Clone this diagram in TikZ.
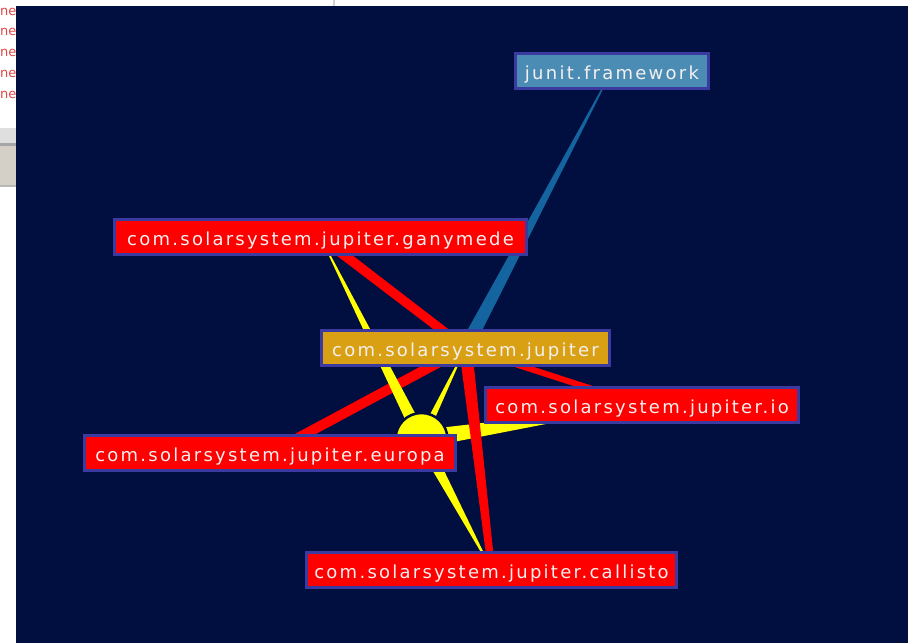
\documentclass[tikz,border=0pt]{standalone}
\usepackage{fontspec}
\newfontfamily\lblfont[LetterSpace=12.5]{DejaVu Sans}
\newfontfamily\chromefont{DejaVu Sans}
\usetikzlibrary{calc}
\pgfdeclarelayer{bg}
\pgfdeclarelayer{edges}
\pgfsetlayers{bg,edges,main}
\definecolor{navy}{HTML}{000E40}
\definecolor{bord}{HTML}{3A3AA0}
\definecolor{pkgred}{HTML}{FF0000}
\definecolor{pkgorange}{HTML}{DAA014}
\definecolor{pkgblue}{HTML}{4A8CB4}
\definecolor{edgeblue}{HTML}{1464A0}
\definecolor{edgered}{HTML}{FF0000}
\definecolor{edgeyellow}{HTML}{FFFF00}
\definecolor{lbltext}{HTML}{F4F0F0}
\definecolor{chromegray}{HTML}{D4D0C8}
\definecolor{chromered}{HTML}{E04848}
\newcommand{\taperedge}[5]{%
  \fill[#1] ($(#2)!#4!90:(#3)$) -- ($(#2)!#4!-90:(#3)$) --
            ($(#3)!#5!90:(#2)$) -- ($(#3)!#5!-90:(#2)$) -- cycle;}
\tikzset{
  pkg/.style={draw=bord, line width=3pt, text=lbltext,
    font=\lblfont\fontsize{18}{20}\selectfont, inner sep=0pt,
    text height=17pt, text depth=0pt, minimum height=35pt},
  redpkg/.style={pkg, fill=pkgred},
  orangepkg/.style={pkg, fill=pkgorange},
  bluepkg/.style={pkg, fill=pkgblue},
  hubdisc/.style={circle, fill=edgeyellow, draw=navy, line width=2.5pt,
    minimum size=52pt, inner sep=0pt},
  chrometext/.style={anchor=west, inner sep=0pt, text=chromered,
    font=\chromefont\fontsize{13}{14}\selectfont}
}
\begin{document}
\begin{tikzpicture}[x=1pt, y=-1pt]
\useasboundingbox (0,0) rectangle (908,643);
% window chrome and panel
\begin{pgfonlayer}{bg}
  \fill[white] (0,0) rectangle (908,643);
  \foreach \yy in {12,32,53,74,95} {
    \node[chrometext] at (0,\yy) {ne};
  }
  \fill[gray!25] (0,128) rectangle (16,143);
  \fill[gray!70] (0,143) rectangle (16,146);
  \fill[chromegray] (0,146) rectangle (16,185);
  \fill[gray!55] (0,185) rectangle (16,187);
  \fill[gray!35] (333,0) rectangle (335,6);
  \fill[navy] (16,6) rectangle (908,643);
\end{pgfonlayer}
% packages
\node[bluepkg, minimum width=193pt] (junit) at (612,70.5) {junit.framework};
\node[redpkg, minimum width=412pt] (ganymede) at (320.5,237) {com.solarsystem.jupiter.ganymede};
\node[orangepkg, minimum width=288pt] (jupiter) at (465.5,348) {com.solarsystem.jupiter};
\node[redpkg, minimum width=313pt] (io) at (642,405) {com.solarsystem.jupiter.io};
\node[redpkg, minimum width=371pt] (europa) at (270,453) {com.solarsystem.jupiter.europa};
\node[redpkg, minimum width=370pt] (callisto) at (491.5,569.5) {com.solarsystem.jupiter.callisto};
\coordinate (hub) at (421.5,439);
% dependencies
\begin{pgfonlayer}{edges}
  \taperedge{edgeblue}{junit.center}{jupiter.center}{0.3pt}{7pt}
  \taperedge{edgered}{ganymede.center}{jupiter.center}{5pt}{4.5pt}
  \taperedge{edgered}{europa.center}{jupiter.center}{5pt}{5pt}
  \taperedge{edgered}{jupiter.center}{io.center}{3pt}{3pt}
  \taperedge{edgeyellow}{ganymede.center}{hub}{0.3pt}{6.5pt}
  \taperedge{edgeyellow}{jupiter.center}{hub}{0.3pt}{4pt}
  \taperedge{edgeyellow}{io.center}{hub}{0.3pt}{9pt}
  \taperedge{edgeyellow}{callisto.center}{hub}{0.3pt}{6.5pt}
  \node[hubdisc] (hubdisc) at (hub) {};
  \taperedge{edgered}{jupiter.center}{callisto.center}{6.5pt}{3.5pt}
\end{pgfonlayer}
\end{tikzpicture}
\end{document}
